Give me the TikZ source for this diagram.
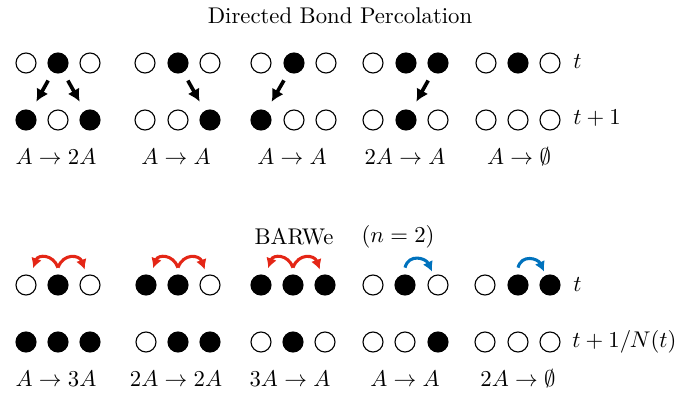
\documentclass[tikz,border=0pt]{standalone}
\usetikzlibrary{arrows.meta}
\definecolor{barwred}{RGB}{228,38,22}
\definecolor{barwblue}{RGB}{0,114,189}
\begin{document}
\begin{tikzpicture}[x=0.44pt,y=-0.44pt,
  site/.style={circle,draw=black,line width=0.5pt,minimum size=8.8pt,inner sep=0pt,fill=white},
  occ/.style={site,fill=black},
  bond/.style={line width=1.6pt,-{Latex[length=5.4pt,width=5.8pt]},shorten <=4.2pt,shorten >=4.6pt},
  hopr/.style={barwred,line width=1.35pt,-{Latex[length=4.4pt,width=4.8pt]},looseness=1.5},
  hopb/.style={barwblue,line width=1.35pt,-{Latex[length=4.4pt,width=4.8pt]},looseness=1.4},
  lab/.style={inner sep=0pt},
  tlab/.style={inner sep=0pt,anchor=west}]
\useasboundingbox (0,0) rectangle (680,394);
% ---------------- Directed Bond Percolation ----------------
\node[lab] (title) at (340,16) {Directed Bond Percolation};
% group 1
\node[site] (t1a) at (26,63) {}; \node[occ] (t1b) at (58,63) {}; \node[site] (t1c) at (90,63) {};
\node[occ] (b1a) at (26,120) {}; \node[site] (b1b) at (58,120) {}; \node[occ] (b1c) at (90,120) {};
% group 2
\node[site] (t2a) at (145,63) {}; \node[occ] (t2b) at (178,63) {}; \node[site] (t2c) at (210,63) {};
\node[site] (b2a) at (145,120) {}; \node[site] (b2b) at (178,120) {}; \node[occ] (b2c) at (210,120) {};
% group 3
\node[site] (t3a) at (261,63) {}; \node[occ] (t3b) at (294,63) {}; \node[site] (t3c) at (326,63) {};
\node[occ] (b3a) at (261,120) {}; \node[site] (b3b) at (294,120) {}; \node[site] (b3c) at (326,120) {};
% group 4
\node[site] (t4a) at (373,63) {}; \node[occ] (t4b) at (406,63) {}; \node[occ] (t4c) at (438,63) {};
\node[site] (b4a) at (373,120) {}; \node[occ] (b4b) at (406,120) {}; \node[site] (b4c) at (438,120) {};
% group 5
\node[site] (t5a) at (486,63) {}; \node[occ] (t5b) at (518,63) {}; \node[site] (t5c) at (550,63) {};
\node[site] (b5a) at (486,120) {}; \node[site] (b5b) at (518,120) {}; \node[site] (b5c) at (550,120) {};
% bonds
\draw[bond] (t1b) -- (b1a);
\draw[bond] (t1b) -- (b1c);
\draw[bond] (t2b) -- (b2c);
\draw[bond] (t3b) -- (b3a);
\draw[bond] (t4c) -- (b4b);
% row labels
\node[tlab] (tt) at (573,62) {$t$};
\node[tlab] (tt1) at (573,118) {$t+1$};
% reaction labels
\node[lab] (r1) at (56,157) {$A\to 2A$};
\node[lab] (r2) at (176,157) {$A\to A$};
\node[lab] (r3) at (292,157) {$A\to A$};
\node[lab] (r4) at (405,157) {$2A\to A$};
\node[lab] (r5) at (519,157) {$A\to\emptyset$};
% ---------------- BARWe ----------------
\node[lab] (barwe) at (294,237) {BARWe};
\node[lab] (nn) at (398,237) {$(n=2)$};
% group 1
\node[site] (u1a) at (26,285) {}; \node[occ] (u1b) at (58,285) {}; \node[site] (u1c) at (90,285) {};
\node[occ] (v1a) at (26,342) {}; \node[occ] (v1b) at (58,342) {}; \node[occ] (v1c) at (90,342) {};
% group 2
\node[occ] (u2a) at (146,285) {}; \node[occ] (u2b) at (178,285) {}; \node[site] (u2c) at (210,285) {};
\node[site] (v2a) at (146,342) {}; \node[occ] (v2b) at (178,342) {}; \node[occ] (v2c) at (210,342) {};
% group 3
\node[occ] (u3a) at (261,285) {}; \node[occ] (u3b) at (293,285) {}; \node[occ] (u3c) at (325,285) {};
\node[site] (v3a) at (261,342) {}; \node[occ] (v3b) at (293,342) {}; \node[site] (v3c) at (325,342) {};
% group 4
\node[site] (u4a) at (373,285) {}; \node[occ] (u4b) at (405,285) {}; \node[site] (u4c) at (438,285) {};
\node[site] (v4a) at (373,342) {}; \node[site] (v4b) at (405,342) {}; \node[occ] (v4c) at (438,342) {};
% group 5
\node[site] (u5a) at (485,285) {}; \node[occ] (u5b) at (518,285) {}; \node[occ] (u5c) at (550,285) {};
\node[site] (v5a) at (485,342) {}; \node[site] (v5b) at (518,342) {}; \node[site] (v5c) at (550,342) {};
% hopping arrows
\draw[hopr] ([yshift=3pt]u1b.north) to[out=110,in=70] ([xshift=3.1pt,yshift=7.4pt]u1a.center);
\draw[hopr] ([yshift=3pt]u1b.north) to[out=70,in=110] ([xshift=-2.3pt,yshift=6.8pt]u1c.center);
\draw[hopr] ([yshift=3pt]u2b.north) to[out=110,in=70] ([xshift=3.1pt,yshift=7.4pt]u2a.center);
\draw[hopr] ([yshift=3pt]u2b.north) to[out=70,in=110] ([xshift=-2.3pt,yshift=6.8pt]u2c.center);
\draw[hopr] ([yshift=3pt]u3b.north) to[out=110,in=70] ([xshift=3.1pt,yshift=7.4pt]u3a.center);
\draw[hopr] ([yshift=3pt]u3b.north) to[out=70,in=110] ([xshift=-2.3pt,yshift=6.8pt]u3c.center);
\draw[hopb] ([yshift=3pt]u4b.north) to[out=75,in=115] ([xshift=-2.6pt,yshift=5.9pt]u4c.center);
\draw[hopb] ([yshift=3pt]u5b.north) to[out=75,in=115] ([xshift=-2.6pt,yshift=5.9pt]u5c.center);
% row labels
\node[tlab] (ut) at (573,285) {$t$};
\node[tlab] (vt) at (572,342) {$t+1/N(t)$};
% reaction labels
\node[lab] (s1) at (56,379) {$A\to 3A$};
\node[lab] (s2) at (176,379) {$2A\to 2A$};
\node[lab] (s3) at (290,379) {$3A\to A$};
\node[lab] (s4) at (405,379) {$A\to A$};
\node[lab] (s5) at (518,379) {$2A\to\emptyset$};
\end{tikzpicture}
\end{document}
